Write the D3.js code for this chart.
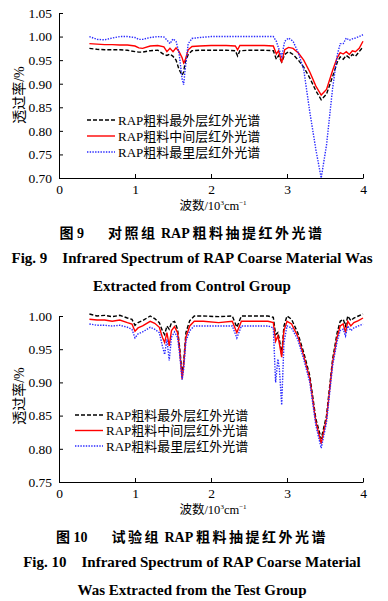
<!DOCTYPE html>
<html>
<head>
<meta charset="utf-8">
<script src="https://cdn.jsdelivr.net/npm/d3@7"></script>
<style>
  body { margin: 0; background: #fff; }
  svg text { font-family: "Liberation Serif", "Noto Sans CJK SC", serif; fill: #000; white-space: pre; }
</style>
</head>
<body>
<div class="mainviz"></div>
<script>
// ---- data (wavenumber in 10^3 cm^-1, transmittance) ----
var legendNames = ["RAP粗料最外层红外光谱", "RAP粗料中间层红外光谱", "RAP粗料最里层红外光谱"];
var xTicks = [0, 1, 2, 3, 4];
var yTicks9 = [0.70, 0.75, 0.80, 0.85, 0.90, 0.95, 1.00, 1.05];
var yTicks10 = [0.75, 0.80, 0.85, 0.90, 0.95, 1.00];

// Fig. 9 control group
var wave9 = [0.40,0.50,0.60,0.70,0.80,0.90,1.00,1.05,1.10,1.20,1.30,1.38,1.42,1.46,1.50,1.54,1.58,1.62,1.64,1.66,1.70,1.75,1.85,2.00,2.20,2.32,2.35,2.38,2.50,2.70,2.82,2.86,2.89,2.93,2.97,3.02,3.08,3.15,3.22,3.30,3.38,3.45,3.52,3.60,3.66,3.70,3.74,3.78,3.82,3.86,3.90,3.95,4.00];
var outer9 = [0.975,0.973,0.972,0.972,0.972,0.971,0.968,0.967,0.967,0.970,0.971,0.962,0.960,0.963,0.958,0.950,0.930,0.918,0.925,0.945,0.962,0.970,0.971,0.971,0.971,0.970,0.959,0.970,0.971,0.971,0.970,0.952,0.960,0.946,0.962,0.968,0.962,0.950,0.935,0.912,0.885,0.866,0.878,0.915,0.945,0.957,0.952,0.960,0.955,0.962,0.958,0.968,0.978];
var middle9 = [0.985,0.984,0.983,0.983,0.982,0.982,0.980,0.976,0.975,0.980,0.981,0.978,0.968,0.975,0.968,0.976,0.968,0.955,0.944,0.950,0.972,0.979,0.980,0.981,0.981,0.980,0.972,0.981,0.981,0.981,0.980,0.963,0.970,0.945,0.972,0.977,0.975,0.965,0.950,0.925,0.895,0.876,0.888,0.928,0.955,0.966,0.963,0.968,0.962,0.970,0.968,0.975,0.990];
var inner9 = [1.000,0.994,0.993,0.997,1.000,1.000,0.998,0.994,0.994,0.998,1.000,0.999,0.993,0.985,0.995,0.990,0.965,0.910,0.898,0.930,0.985,0.996,0.998,1.000,1.000,1.000,1.000,1.000,1.000,1.000,1.000,0.990,0.975,0.958,0.990,0.997,0.990,0.965,0.930,0.840,0.760,0.700,0.770,0.890,0.960,0.985,0.985,0.997,0.992,0.995,0.997,1.000,1.004];

// Fig. 10 test group
var wave10 = [0.40,0.50,0.60,0.70,0.80,0.90,0.96,1.00,1.04,1.10,1.20,1.26,1.32,1.36,1.39,1.42,1.45,1.48,1.52,1.56,1.59,1.62,1.64,1.67,1.72,1.78,1.90,2.10,2.28,2.34,2.40,2.55,2.75,2.82,2.85,2.88,2.90,2.93,2.96,3.00,3.06,3.14,3.22,3.30,3.38,3.45,3.52,3.60,3.66,3.70,3.74,3.77,3.80,3.84,3.88,3.94,4.00];
var outer10 = [1.003,1.000,1.001,0.999,1.001,0.997,0.995,0.986,0.990,0.993,1.000,0.996,0.990,0.978,0.972,0.985,0.980,0.990,0.992,0.980,0.950,0.912,0.930,0.975,0.993,1.000,1.000,0.999,1.000,0.983,1.000,1.000,1.000,0.998,0.972,0.975,0.965,0.942,0.985,1.000,0.995,0.975,0.945,0.910,0.845,0.815,0.850,0.935,0.975,0.992,0.995,0.985,1.000,0.993,0.997,1.000,1.003];
var middle10 = [0.995,0.994,0.994,0.992,0.994,0.990,0.988,0.977,0.982,0.985,0.992,0.989,0.983,0.968,0.960,0.975,0.955,0.978,0.984,0.975,0.945,0.905,0.925,0.968,0.985,0.992,0.992,0.990,0.992,0.975,0.992,0.992,0.992,0.990,0.962,0.970,0.958,0.938,0.978,0.992,0.988,0.970,0.940,0.905,0.840,0.808,0.845,0.930,0.968,0.985,0.988,0.975,0.992,0.985,0.990,0.993,0.997];
var inner10 = [0.988,0.986,0.986,0.985,0.986,0.983,0.980,0.967,0.973,0.976,0.983,0.980,0.975,0.955,0.942,0.965,0.933,0.968,0.976,0.968,0.940,0.904,0.920,0.962,0.978,0.985,0.985,0.985,0.985,0.967,0.985,0.985,0.985,0.982,0.900,0.935,0.920,0.866,0.960,0.985,0.982,0.965,0.935,0.900,0.835,0.801,0.840,0.925,0.962,0.978,0.980,0.970,0.985,0.978,0.982,0.985,0.988];

var seriesStyle = [
  { color: "#000", dash: "4,2", width: 1.4 },
  { color: "#ff0000", dash: null, width: 1.4 },
  { color: "#2a2aff", dash: "1.4,1.3", width: 1.4 }
];

var width = 388, height = 601;
var svg = d3.select(".mainviz").append("svg")
  .attr("width", width)
  .attr("height", height);

function drawChart(cfg) {
  var x = d3.scaleLinear().domain([0, 4]).range([59, 363]);
  var y = d3.scaleLinear().domain(cfg.yDomain).range([cfg.bottom, cfg.top]);
  var g = svg.append("g");

  var series = [cfg.outer, cfg.middle, cfg.inner];
  var line = d3.line()
    .x(function(d){ return x(d[0]); })
    .y(function(d){ return y(d[1]); });

  series.forEach(function(vals, i) {
    var pts = cfg.wave.map(function(w, j){ return [w, vals[j]]; });
    g.append("path")
      .attr("d", line(pts))
      .attr("fill", "none")
      .attr("stroke", seriesStyle[i].color)
      .attr("stroke-width", seriesStyle[i].width)
      .attr("stroke-dasharray", seriesStyle[i].dash);
  });

  var yAxis = d3.axisLeft(y).tickValues(cfg.yTicks).tickSizeInner(-4).tickSizeOuter(0)
    .tickPadding(7).tickFormat(d3.format(".2f"));
  var xAxis = d3.axisBottom(x).tickValues(xTicks).tickSizeInner(-4).tickSizeOuter(0)
    .tickPadding(6).tickFormat(d3.format("d"));

  var ya = g.append("g").attr("transform", "translate(59,0)").call(yAxis);
  var xa = g.append("g").attr("transform", "translate(0," + cfg.bottom + ")").call(xAxis);
  [ya, xa].forEach(function(a) {
    a.select(".domain").attr("stroke", "#000").attr("stroke-width", 1);
    a.selectAll(".tick line").attr("stroke", "#000");
    a.selectAll("text").attr("font-size", 13.5).attr("fill", "#000");
  });

  // axis titles
  g.append("text")
    .attr("transform", "translate(24," + cfg.yTitleY + ") rotate(-90)")
    .attr("text-anchor", "middle")
    .attr("font-size", 14)
    .text("透过率/%");

  var xt = g.append("text")
    .attr("x", 213).attr("y", cfg.bottom + 32)
    .attr("text-anchor", "middle")
    .attr("font-size", 12.5);
  xt.append("tspan").text("波数/10");
  xt.append("tspan").attr("font-size", 7).attr("dy", -5).text("3");
  xt.append("tspan").attr("dy", 5).text("cm");
  xt.append("tspan").attr("font-size", 7).attr("dy", -5).text("−1");

  // legend
  legendNames.forEach(function(name, i) {
    var ly = cfg.legendY + i * cfg.legendStep;
    g.append("line")
      .attr("x1", cfg.legendX).attr("x2", cfg.legendX + 28)
      .attr("y1", ly).attr("y2", ly)
      .attr("stroke", seriesStyle[i].color)
      .attr("stroke-width", seriesStyle[i].width)
      .attr("stroke-dasharray", seriesStyle[i].dash);
    g.append("text")
      .attr("x", cfg.legendX + 31).attr("y", ly + 4.5)
      .attr("font-size", 13)
      .text(name);
  });

  // captions: CJK parts spaced, Latin parts not
  var cap = g.append("text")
    .attr("x", 192).attr("y", cfg.capY)
    .attr("text-anchor", "middle")
    .attr("font-size", 14)
    .attr("font-weight", "bold");
  cfg.capCn.forEach(function(p) {
    cap.append("tspan").attr("letter-spacing", p[1]).text(p[0]);
  });
  cfg.capEn.forEach(function(t, i) {
    g.append("text")
      .attr("x", 192).attr("y", cfg.capY + 25 + i * 28)
      .attr("text-anchor", "middle")
      .attr("font-size", 15)
      .attr("font-weight", "bold")
      .text(t);
  });
}

drawChart({
  wave: wave9, outer: outer9, middle: middle9, inner: inner9,
  yDomain: [0.70, 1.05], yTicks: yTicks9, top: 13, bottom: 178,
  yTitleY: 95, legendX: 87, legendY: 120, legendStep: 16,
  capY: 238,
  capCn: [["图 9", 0], ["    对照组", 2.5], [" RAP ", 0], ["粗料抽提红外光谱", 2.5]],
  capEn: ["Fig. 9    Infrared Spectrum of RAP Coarse Material Was", "Extracted from Control Group"]
});

drawChart({
  wave: wave10, outer: outer10, middle: middle10, inner: inner10,
  yDomain: [0.75, 1.00], yTicks: yTicks10, top: 316, bottom: 482,
  yTitleY: 396, legendX: 75, legendY: 415, legendStep: 15.5,
  capY: 542,
  capCn: [["图 10", 0], ["    试验组", 2.5], [" RAP ", 0], ["粗料抽提红外光谱", 2.5]],
  capEn: ["Fig. 10    Infrared Spectrum of RAP Coarse Material", "Was Extracted from the Test Group"]
});
</script>
</body>
</html>
